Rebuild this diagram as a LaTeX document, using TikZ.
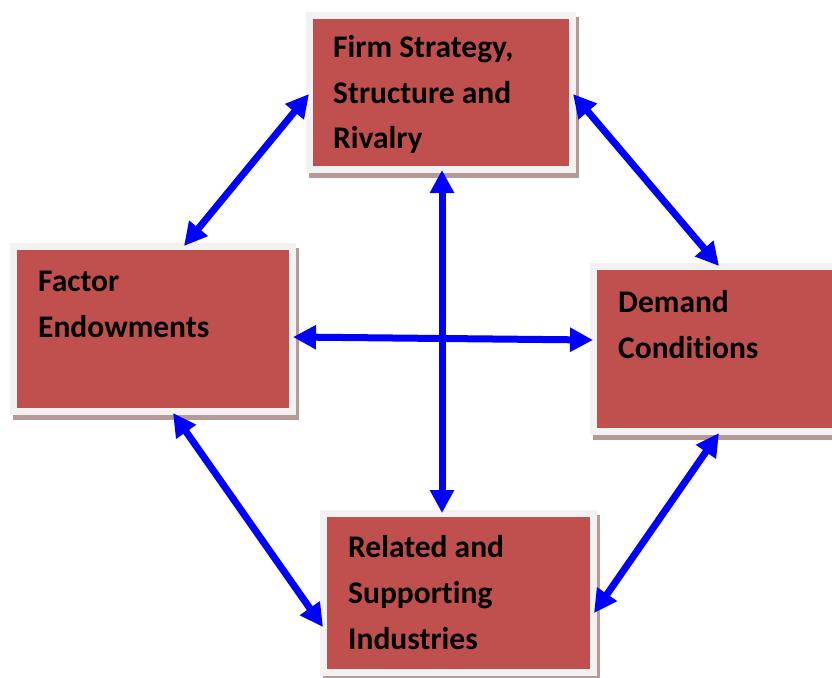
\documentclass[tikz,border=0pt]{standalone}
\usepackage{fontspec}
\setmainfont{Carlito}[Ligatures={NoCommon}]
\usetikzlibrary{arrows.meta,calc}
\definecolor{boxred}{HTML}{C0504D}
\definecolor{boxgray}{HTML}{F2F2F2}
\definecolor{shadowc}{HTML}{B59A97}
\definecolor{arrblue}{HTML}{0000FF}
\newcommand{\boxlines}[1]{\vtop{\baselineskip=46pt #1}}
\begin{document}
\begin{tikzpicture}[x=1pt,y=-1pt,
  factor/.style={draw=boxgray, fill=boxred, line width=7pt, inner sep=0pt,
    preaction={draw=shadowc, fill=shadowc, transform canvas={xshift=3pt,yshift=-5pt}}},
  label text/.style={anchor=base west, inner sep=0pt, font=\fontsize{31.5}{46}\selectfont\bfseries},
  link/.style={draw=arrblue, line width=7pt, {Triangle[length=23pt,width=23pt]}-{Triangle[length=23pt,width=23pt]}}]
\useasboundingbox (0,0) rectangle (832,677);
% boxes
\node[factor, minimum width=263pt, minimum height=154pt] (top) at (441,92.5) {};
\node[factor, minimum width=279pt, minimum height=165pt] (left) at (153,329) {};
\node[factor, minimum width=279pt, minimum height=165pt] (right) at (733,349) {};
\node[factor, minimum width=270pt, minimum height=159pt] (bottom) at (458.5,593) {};
% texts
\node[label text] (ttop) at (333,57) {\boxlines{\hbox{Firm Strategy,}\hbox{Structure and}\hbox{Rivalry}}};
\node[label text] (tleft) at (38,291) {\boxlines{\hbox{Factor}\hbox{Endowments}}};
\node[label text] (tright) at (618,312) {\boxlines{\hbox{Demand}\hbox{Conditions}}};
\node[label text] (tbottom) at (348,557) {\boxlines{\hbox{Related and}\hbox{Supporting}\hbox{Industries}}};
% connectors
\draw[link] ($(top.west)+(3,1.5)$) -- ($(left.north)+(31,3)$);
\draw[link] ($(top.east)+(-3,1.5)$) -- ($(right.north)+(-14,3)$);
\draw[link] ($(left.east)+(-3,8)$) -- ($(right.west)+(3,-9)$);
\draw[link] ($(top.south)+(1,-3)$) -- ($(bottom.north)+(-16.5,3)$);
\draw[link] ($(left.south)+(20,-2)$) -- ($(bottom.west)+(3,34)$);
\draw[link] ($(right.south)+(-14,-2)$) -- ($(bottom.east)+(-3,20)$);
\end{tikzpicture}
\end{document}
